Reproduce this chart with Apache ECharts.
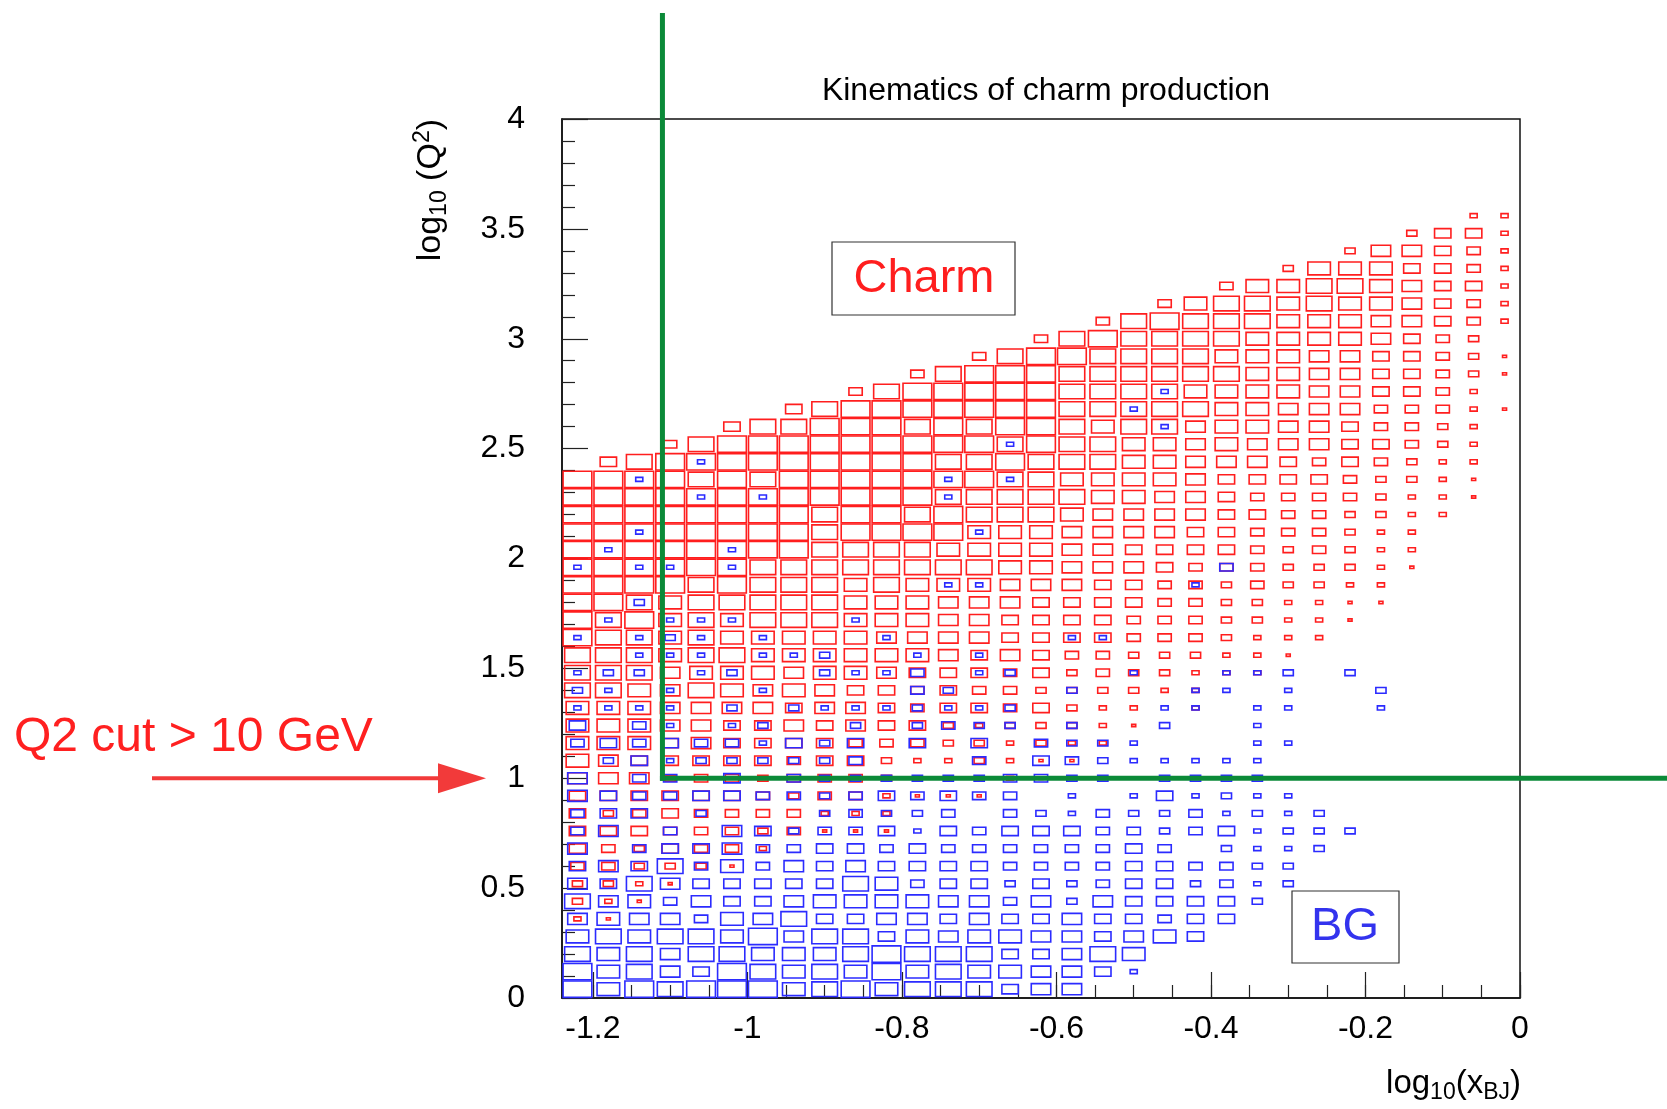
<!DOCTYPE html>
<html>
<head>
<meta charset="utf-8">
<title>Kinematics of charm production</title>
<script src="https://cdn.jsdelivr.net/npm/echarts@6/dist/echarts.min.js"></script>
<style>
  html, body { margin: 0; padding: 0; background: #fff; }
  #chart { width: 1667px; height: 1109px; }
</style>
</head>
<body>
<div id="chart"></div>
<script>
// Binning of both 2D histograms
const X_MIN = -1.24
const X_MAX = 0
const Y_MIN = 0
const Y_MAX = 4
const BIN_W = 0.04
const BIN_H = 0.08

// Box size per bin (0 = empty, 9 = box almost fills the cell).
// Rows run from the top filled y bin down to bin 0; '|' only groups the 31 columns by 8.
const charmTopRow = 44
const charmRows = [
  '00000000|00000000|00000000|0000022',
  '00000000|00000000|00000000|0003552',
  '00000000|00000000|00000000|0366542',
  '00000000|00000000|00000003|7775542',
  '00000000|00000000|00000477|8876552',
  '00000000|00000000|00047887|8776542',
  '00000000|00000000|04898887|7766542',
  '00000000|00000004|89888877|7765430',
  '00000000|00000489|98888777|6655431',
  '00000000|00048999|88888877|6655431',
  '00000000|04899999|88887777|6655420',
  '00000005|89999999|88888776|6644421',
  '00000588|99989899|87886776|6544320',
  '00048999|99999989|88776766|6554320',
  '05899999|99998898|88776665|4543220',
  '99998989|99999988|77776555|5433210',
  '99999999|99998888|87766544|4432210',
  '99999999|89989888|76666554|4332200',
  '99999999|89999777|66665544|4322000',
  '99999999|88887777|66555543|4322000',
  '99999988|88888877|66654443|3321000',
  '99998988|87877766|65544343|3220000',
  '99878888|87776665|55544332|2110000',
  '98978788|87776655|55444332|2100000',
  '98878777|77666655|55444322|2000000',
  '88878877|77776565|44333221|0000000',
  '88867776|77655545|34332220|0000000',
  '88768767|65545443|33322000|0000000',
  '77766665|66545545|32202000|0000000',
  '77766556|56553233|32100000|0000000',
  '77756555|54443323|22000000|0000000',
  '76555554|55322321|10000000|0000000',
  '66634434|44322221|11000000|0000000',
  '55555543|44211100|00000000|0000000',
  '53454444|22200000|00000000|0000000',
  '55544434|11100000|00000000|0000000',
  '54354420|00000000|00000000|0000000',
  '44333100|00000000|00000000|0000000',
  '33210000|00000000|00000000|0000000',
  '32100000|00000000|00000000|0000000',
  '21000000|00000000|00000000|0000000',
  '00000000|00000000|00000000|0000000',
  '00000000|00000000|00000000|0000000',
  '00000000|00000000|00000000|0000000',
  '00000000|00000000|00000000|0000000'
]

const bgTopRow = 34
const bgRows = [
  '00000000|00000000|00020000|0000000',
  '00000000|00000000|00200000|0000000',
  '00000000|00000000|00020000|0000000',
  '00000000|00000020|00000000|0000000',
  '00002000|00000000|00000000|0000000',
  '00200000|00002020|00000000|0000000',
  '00002020|00002000|00000000|0000000',
  '00000000|00000000|00000000|0000000',
  '00200000|00000200|00000000|0000000',
  '02000200|00000000|00000000|0000000',
  '20220200|00000000|00000400|0000000',
  '00000000|00002200|00002000|0000000',
  '00300000|00000000|00000000|0000000',
  '02022200|02000000|00000000|0000000',
  '20232020|00200000|22000000|0000000',
  '00222022|30020200|00000000|0000000',
  '23302300|32240230|00200223|0300000',
  '32020020|00043000|30002202|0030000',
  '22220303|22232230|00022022|0020000',
  '50420230|03034330|30030020|0000000',
  '45454425|35050504|33200022|0000000',
  '03523333|34000405|43222220|0000000',
  '60440504|33333344|33033330|0000000',
  '65445544|34545440|20252322|0000000',
  '45503000|34334043|24334232|3000000',
  '46040653|44525455|54434523|3300000',
  '60455644|55454444|44540322|3000000',
  '56584746|56555544|44554433|0000000',
  '65865555|58745535|34553423|0000000',
  '86746556|77776646|36555530|0000000',
  '67664768|55665655|65545500|0000000',
  '78788796|88576776|65675000|0000000',
  '87868877|78988855|68700000|0000000',
  '97865987|87978776|65200000|0000000',
  '97989997|89788856|60000000|0000000'
]

const xMajorTicks = [-1.2, -1, -0.8, -0.6, -0.4, -0.2, 0]
const xMinorTicks = [-1.2, -1.15, -1.1, -1.05, -1, -0.95, -0.9, -0.85, -0.8, -0.75, -0.7, -0.65,
  -0.6, -0.55, -0.5, -0.45, -0.4, -0.35, -0.3, -0.25, -0.2, -0.15, -0.1, -0.05, 0]

// Q2 > 10 GeV cut and the x cut drawn on top
const cutX = -1.11
const cutY = 1

const RED = '#ff1e1e'
const BLUE = '#2b2bff'
const GREEN = '#0b8a38'
const FONT = 'Liberation Sans, Arial, Helvetica, sans-serif'

function binsFrom(rows, topRow) {
  const data = []
  rows.forEach((s, i) => {
    const r = topRow - i
    s.replace(/\|/g, '').split('').forEach((ch, c) => {
      const v = Number(ch)
      if (v > 0) data.push([X_MIN + (c + 0.5) * BIN_W, Y_MIN + (r + 0.5) * BIN_H, v])
    })
  })
  return data
}

function boxSeries(name, data, color) {
  return {
    name: name,
    type: 'custom',
    xAxisIndex: 0,
    yAxisIndex: 0,
    encode: { x: 0, y: 1 },
    data: data,
    renderItem: function (params, api) {
      const p = api.coord([api.value(0), api.value(1)])
      const cell = api.size([BIN_W, BIN_H])
      const f = (api.value(2) + 0.3) / 10
      const w = cell[0] * f
      const h = cell[1] * f
      return {
        type: 'rect',
        shape: { x: p[0] - w / 2, y: p[1] - h / 2, width: w, height: h },
        style: { fill: 'transparent', stroke: color, lineWidth: 1.6 }
      }
    }
  }
}

function fmt(v) {
  return String(Math.round(v * 10) / 10)
}

const chart = echarts.init(document.getElementById('chart'), null, { renderer: 'canvas' })

const axisLineStyle = { color: '#111', width: 1.5 }
const tickStyle = { color: '#222', width: 1.2 }

chart.setOption({
  animation: false,
  backgroundColor: '#fff',
  grid: {
    left: 562, right: 147, top: 119, bottom: 111,
    show: true, borderColor: '#111', borderWidth: 1.5,
    outerBoundsMode: 'none'
  },
  xAxis: [
    {
      type: 'value', min: X_MIN, max: X_MAX,
      axisLine: { onZero: false, lineStyle: axisLineStyle },
      axisTick: { inside: true, length: 26, customValues: xMajorTicks, lineStyle: tickStyle },
      axisLabel: {
        customValues: xMajorTicks, margin: 15, fontSize: 32, color: '#000',
        fontFamily: FONT, formatter: fmt, showMinLabel: true, showMaxLabel: true
      },
      splitLine: { show: false }
    },
    {
      type: 'value', min: X_MIN, max: X_MAX, position: 'bottom',
      axisLine: { show: false, onZero: false },
      axisTick: { inside: true, length: 13, customValues: xMinorTicks, lineStyle: tickStyle },
      axisLabel: { show: false },
      splitLine: { show: false }
    }
  ],
  yAxis: {
    type: 'value', min: Y_MIN, max: Y_MAX, interval: 0.5, position: 'left',
    axisLine: { show: true, onZero: false, lineStyle: axisLineStyle },
    axisTick: { inside: true, length: 26, lineStyle: tickStyle },
    minorTick: { show: true, splitNumber: 5, length: 13, lineStyle: tickStyle },
    axisLabel: { margin: 37, fontSize: 32, color: '#000', fontFamily: FONT, formatter: fmt },
    splitLine: { show: false }
  },
  series: [
    boxSeries('Charm', binsFrom(charmRows, charmTopRow), RED),
    boxSeries('BG', binsFrom(bgRows, bgTopRow), BLUE)
  ]
})

// Annotations (cut lines, arrow, labels) anchored on the axes
const cut = chart.convertToPixel({ gridIndex: 0 }, [cutX, cutY])
const gx = cut[0]
const gy = cut[1]

chart.setOption({
  graphic: [
    {
      type: 'text', x: 1046, y: 91,
      style: { text: 'Kinematics of charm production', font: '32px ' + FONT, fill: '#000', align: 'center', verticalAlign: 'middle' }
    },
    {
      type: 'text', x: 1521, y: 1084,
      style: {
        text: '{m|log}{s|10}{m|(x}{s|BJ}{m|)}', align: 'right', verticalAlign: 'middle', fill: '#000',
        rich: {
          m: { fontSize: 33, fontFamily: FONT, fill: '#000' },
          s: { fontSize: 23, fontFamily: FONT, fill: '#000', padding: [17, 0, 0, 0] }
        }
      }
    },
    {
      type: 'text', x: 431, y: 119, rotation: Math.PI / 2,
      style: {
        text: '{m|log}{s|10}{m| (Q}{p|2}{m|)}', align: 'right', verticalAlign: 'middle', fill: '#000',
        rich: {
          m: { fontSize: 34, fontFamily: FONT, fill: '#000' },
          s: { fontSize: 23, fontFamily: FONT, fill: '#000', padding: [17, 0, 0, 0] },
          p: { fontSize: 23, fontFamily: FONT, fill: '#000', padding: [0, 0, 17, 0] }
        }
      }
    },
    {
      type: 'line', z: 100,
      shape: { x1: gx, y1: 13, x2: gx, y2: gy + 2.5 },
      style: { stroke: GREEN, lineWidth: 5 }
    },
    {
      type: 'line', z: 100,
      shape: { x1: gx - 2.5, y1: gy, x2: 1667, y2: gy },
      style: { stroke: GREEN, lineWidth: 5 }
    },
    {
      type: 'line', z: 100,
      shape: { x1: 152, y1: gy, x2: 442, y2: gy },
      style: { stroke: '#f23a3a', lineWidth: 4 }
    },
    {
      type: 'polygon', z: 100,
      shape: { points: [[438, gy - 15], [486, gy], [438, gy + 15]] },
      style: { fill: '#f23a3a' }
    },
    {
      type: 'text', z: 100, x: 14, y: gy - 40,
      style: { text: 'Q2 cut > 10 GeV', font: '48px ' + FONT, fill: '#ff2020', align: 'left', verticalAlign: 'middle' }
    },
    {
      type: 'rect', z: 100,
      shape: { x: 832, y: 242, width: 183, height: 73 },
      style: { fill: '#fff', stroke: '#333', lineWidth: 1.2 }
    },
    {
      type: 'text', z: 101, x: 924, y: 279,
      style: { text: 'Charm', font: '47px ' + FONT, fill: '#ff1e1e', align: 'center', verticalAlign: 'middle' }
    },
    {
      type: 'rect', z: 100,
      shape: { x: 1292, y: 891, width: 107, height: 72 },
      style: { fill: '#fff', stroke: '#333', lineWidth: 1.2 }
    },
    {
      type: 'text', z: 101, x: 1345, y: 927,
      style: { text: 'BG', font: '47px ' + FONT, fill: '#3333ee', align: 'center', verticalAlign: 'middle' }
    }
  ]
})
</script>
</body>
</html>
